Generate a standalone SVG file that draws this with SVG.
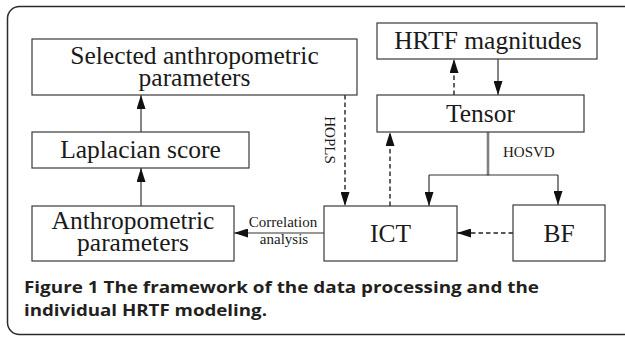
<svg xmlns="http://www.w3.org/2000/svg" width="625" height="338" viewBox="0 0 625 338">
  <style>
    .box { fill: #ffffff; stroke: #3a3a3a; stroke-width: 1.2; }
    .lbl { font-family: "Liberation Serif", "Times New Roman", serif; font-size: 25.5px; fill: #1a1a1a; text-anchor: middle; }
    .small { font-family: "Liberation Serif", "Times New Roman", serif; font-size: 15px; fill: #1a1a1a; }
    .solid { fill: none; stroke: #333333; stroke-width: 1.2; }
    .dash { fill: none; stroke: #222222; stroke-width: 1.4; stroke-dasharray: 4.5 3; }
    .trunk { fill: none; stroke: #808080; stroke-width: 2.6; }
    .caption { font-family: "Open Sans", "Liberation Sans", sans-serif; font-size: 16px; font-weight: 700; fill: #231f20; }
  </style>
  <defs>
    <marker id="head" viewBox="0 0 14 9" refX="14" refY="4.5" markerWidth="14" markerHeight="9" markerUnits="userSpaceOnUse" orient="auto">
      <path d="M0,0 L14,4.5 L0,9 Z" fill="#111111"/>
    </marker>
  </defs>

  <!-- figure frame -->
  <rect x="7.5" y="6.5" width="628" height="328" rx="12" ry="12" fill="#ffffff" stroke="#2b2b2b" stroke-width="1.5"/>

  <!-- connectors -->
  <g id="connectors">
    <line class="solid" x1="141" y1="132" x2="141" y2="95" marker-end="url(#head)"/>
    <line class="solid" x1="141" y1="206" x2="141" y2="168" marker-end="url(#head)"/>
    <line class="solid" x1="324" y1="233" x2="234" y2="233" marker-end="url(#head)"/>
    <line class="dash" x1="513" y1="233" x2="457" y2="233" marker-end="url(#head)"/>
    <line class="dash" x1="345" y1="95" x2="345" y2="206" marker-end="url(#head)"/>
    <line class="dash" x1="390" y1="206" x2="390" y2="132" marker-end="url(#head)"/>
    <line class="dash" x1="454" y1="95" x2="454" y2="59" marker-end="url(#head)"/>
    <line class="solid" x1="498" y1="59" x2="498" y2="95" marker-end="url(#head)"/>
    <!-- HOSVD split: grey trunk, cross bar, two drops -->
    <line class="trunk" x1="488" y1="132" x2="488" y2="175.5"/>
    <line class="solid" x1="429" y1="175" x2="558" y2="175"/>
    <line class="solid" x1="429" y1="175" x2="429" y2="206" marker-end="url(#head)"/>
    <line class="solid" x1="558" y1="175" x2="558" y2="205" marker-end="url(#head)"/>
    <text class="small" x="503" y="157">HOSVD</text>
    <text class="small" transform="translate(325,140) rotate(90)" text-anchor="middle">HOPLS</text>
    <text class="small" x="283" y="227" text-anchor="middle">Correlation</text>
    <text class="small" x="284" y="244" text-anchor="middle">analysis</text>
  </g>

  <!-- nodes -->
  <g id="selected">
    <rect class="box" x="32" y="39" width="325" height="56"/>
    <text class="lbl" x="194.5" y="64">Selected anthropometric</text>
    <text class="lbl" x="194.5" y="86">parameters</text>
  </g>
  <g id="laplacian">
    <rect class="box" x="32" y="132" width="217" height="36"/>
    <text class="lbl" x="140.5" y="158">Laplacian score</text>
  </g>
  <g id="anthropometric">
    <rect class="box" x="32" y="206" width="202" height="55"/>
    <text class="lbl" x="133" y="228.5">Anthropometric</text>
    <text class="lbl" x="133" y="250.5">parameters</text>
  </g>
  <g id="hrtf">
    <rect class="box" x="377" y="23" width="220" height="36"/>
    <text class="lbl" x="488" y="48.5">HRTF magnitudes</text>
  </g>
  <g id="tensor">
    <rect class="box" x="377" y="95" width="207" height="37"/>
    <text class="lbl" x="480.5" y="122">Tensor</text>
  </g>
  <g id="ict">
    <rect class="box" x="324" y="206" width="133" height="55"/>
    <text class="lbl" x="390.5" y="241.5">ICT</text>
  </g>
  <g id="bf">
    <rect class="box" x="513" y="205" width="92" height="56"/>
    <text class="lbl" x="559" y="241.5">BF</text>
  </g>

  <!-- caption -->
  <g id="caption">
    <text class="caption" x="24" y="293" textLength="515" lengthAdjust="spacingAndGlyphs">Figure 1 The framework of the data processing and the</text>
    <text class="caption" x="24" y="316" textLength="243" lengthAdjust="spacingAndGlyphs">individual HRTF modeling.</text>
  </g>
</svg>
